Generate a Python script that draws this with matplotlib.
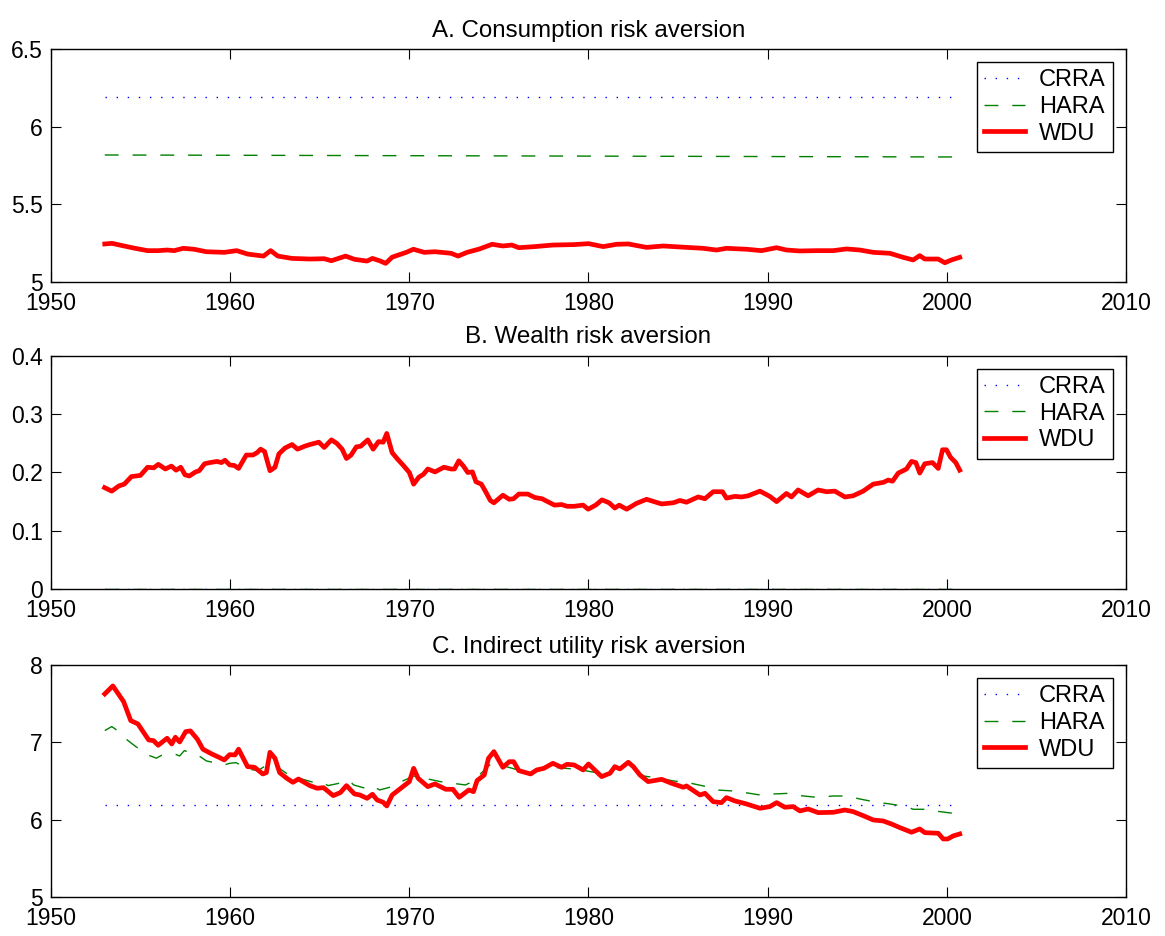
#!/usr/bin/env python3
"""Three-panel risk aversion chart (CRRA / HARA / WDU), MATLAB-style look."""
import numpy as np
import matplotlib
matplotlib.use("Agg")
import matplotlib.pyplot as plt

plt.rcParams["font.family"] = ["Liberation Sans", "DejaVu Sans"]

T0, T1 = 1953.0, 2000.72

# A. Consumption risk aversion
A_CRRA = 6.19
A_HARA = [5.818, 5.805]
A_WDU_T = [1953.0, 1953.4, 1953.99, 1954.69, 1955.39, 1955.98, 1956.48, 1956.88,
           1957.38, 1957.98, 1958.67, 1959.67, 1960.37, 1960.97, 1961.86, 1962.26,
           1962.66, 1963.45, 1964.45, 1965.25, 1965.65, 1966.44, 1966.94, 1967.64,
           1967.94, 1968.34, 1968.68, 1969.04, 1969.83, 1970.23, 1970.83, 1971.43,
           1972.33, 1972.72, 1973.22, 1973.92, 1974.62, 1975.22, 1975.72, 1976.11,
           1977.0, 1978.0, 1979.2, 1980.0, 1980.82, 1981.57, 1982.22, 1983.24,
           1984.17, 1985.47, 1986.40, 1987.14, 1987.70, 1988.82, 1989.66, 1990.50,
           1991.05, 1991.80, 1992.73, 1993.66, 1994.40, 1995.15, 1995.89, 1996.82,
           1997.56, 1998.12, 1998.49, 1998.77, 1999.52, 1999.89, 2000.26, 2000.72]
A_WDU = [5.245, 5.249, 5.234, 5.217, 5.202, 5.202, 5.206, 5.202,
         5.217, 5.211, 5.195, 5.191, 5.202, 5.180, 5.167, 5.202,
         5.167, 5.152, 5.148, 5.150, 5.137, 5.167, 5.146, 5.135,
         5.152, 5.137, 5.120, 5.160, 5.191, 5.211, 5.191, 5.195,
         5.185, 5.167, 5.191, 5.213, 5.243, 5.232, 5.238, 5.221,
         5.228, 5.238, 5.241, 5.247, 5.228, 5.243, 5.245, 5.223,
         5.232, 5.223, 5.217, 5.206, 5.217, 5.211, 5.202, 5.221,
         5.206, 5.200, 5.202, 5.202, 5.213, 5.206, 5.191, 5.185,
         5.159, 5.142, 5.170, 5.148, 5.148, 5.124, 5.142, 5.159]

# B. Wealth risk aversion
B_CRRA = 0.0
B_HARA = 0.0
B_WDU_T = [1952.99, 1953.39, 1953.79, 1954.09, 1954.49, 1954.99, 1955.39, 1955.73,
           1955.99, 1956.38, 1956.72, 1956.98, 1957.24, 1957.48, 1957.72, 1958.07,
           1958.27, 1958.57, 1958.87, 1959.27, 1959.51, 1959.71, 1959.97, 1960.23,
           1960.47, 1960.90, 1961.27, 1961.50, 1961.70, 1961.92, 1962.22, 1962.50,
           1962.72, 1963.06, 1963.45, 1963.76, 1964.15, 1964.45, 1964.95, 1965.25,
           1965.65, 1965.95, 1966.25, 1966.49, 1966.75, 1967.04, 1967.28, 1967.68,
           1967.98, 1968.28, 1968.54, 1968.74, 1969.04, 1969.34, 1969.64, 1970.0,
           1970.24, 1970.53, 1970.79, 1971.03, 1971.43, 1971.93, 1972.33, 1972.52,
           1972.76, 1973.02, 1973.26, 1973.52, 1973.72, 1974.02, 1974.26, 1974.52,
           1974.72, 1975.22, 1975.58, 1975.82, 1976.11, 1976.61, 1977.01, 1977.40,
           1978.10, 1978.50, 1978.80, 1979.20, 1979.70, 1979.98, 1980.40, 1980.75,
           1981.15, 1981.47, 1981.71, 1982.13, 1982.68, 1983.24, 1984.08, 1984.73,
           1985.10, 1985.47, 1986.12, 1986.50, 1986.96, 1987.48, 1987.70, 1988.17,
           1988.54, 1988.91, 1989.57, 1990.12, 1990.50, 1991.05, 1991.33, 1991.70,
           1992.26, 1992.82, 1993.28, 1993.75, 1994.31, 1994.77, 1995.33, 1995.89,
           1996.45, 1996.73, 1996.97, 1997.29, 1997.75, 1998.03, 1998.27, 1998.49,
           1998.77, 1999.20, 1999.52, 1999.76, 1999.98, 2000.21, 2000.50, 2000.72]
B_WDU = [0.174, 0.168, 0.177, 0.180, 0.193, 0.195, 0.209, 0.208,
         0.214, 0.206, 0.211, 0.204, 0.209, 0.196, 0.194, 0.201,
         0.203, 0.215, 0.217, 0.219, 0.217, 0.221, 0.213, 0.212,
         0.207, 0.230, 0.230, 0.234, 0.240, 0.236, 0.203, 0.209,
         0.232, 0.242, 0.248, 0.240, 0.245, 0.248, 0.252, 0.243,
         0.256, 0.250, 0.240, 0.224, 0.230, 0.244, 0.245, 0.256,
         0.240, 0.253, 0.252, 0.267, 0.234, 0.223, 0.213, 0.200,
         0.180, 0.192, 0.197, 0.206, 0.201, 0.209, 0.206, 0.206,
         0.220, 0.211, 0.200, 0.201, 0.184, 0.180, 0.167, 0.152,
         0.148, 0.161, 0.154, 0.155, 0.163, 0.163, 0.157, 0.155,
         0.144, 0.145, 0.142, 0.142, 0.144, 0.137, 0.144, 0.153,
         0.148, 0.139, 0.144, 0.137, 0.147, 0.154, 0.146, 0.148,
         0.152, 0.149, 0.158, 0.155, 0.167, 0.167, 0.156, 0.159,
         0.158, 0.160, 0.168, 0.159, 0.150, 0.164, 0.158, 0.170,
         0.160, 0.170, 0.167, 0.168, 0.158, 0.160, 0.168, 0.180,
         0.183, 0.187, 0.185, 0.199, 0.206, 0.219, 0.217, 0.199,
         0.215, 0.217, 0.207, 0.239, 0.239, 0.226, 0.217, 0.204]

# C. Indirect utility risk aversion
C_CRRA = 6.19
C_HARA_T = [1953.0, 1953.39, 1953.79, 1954.25, 1954.73, 1955.49, 1955.88, 1956.14,
            1956.88, 1957.18, 1957.44, 1958.27, 1958.67, 1959.67, 1959.97, 1960.33,
            1960.97, 1961.56, 1962.26, 1962.54, 1963.55, 1963.85, 1964.85, 1965.21,
            1965.45, 1966.34, 1966.64, 1966.89, 1967.74, 1968.0, 1968.34, 1969.04,
            1969.64, 1970.24, 1971.73, 1972.43, 1973.13, 1973.52, 1974.62, 1975.4,
            1976.21, 1976.81, 1978.01, 1979.20, 1979.80, 1980.63, 1981.57, 1982.22,
            1983.06, 1983.99, 1984.73, 1985.47, 1986.59, 1987.14, 1988.07, 1988.63,
            1989.57, 1990.31, 1991.24, 1991.80, 1992.73, 1993.66, 1994.40, 1995.15,
            1995.98, 1996.82, 1997.75, 1998.12, 1998.77, 1999.61, 2000.35, 2000.72]
C_HARA = [7.152, 7.204, 7.139, 7.031, 6.945, 6.829, 6.795, 6.829,
          6.850, 6.824, 6.893, 6.824, 6.760, 6.708, 6.729, 6.737,
          6.655, 6.634, 6.742, 6.695, 6.535, 6.535, 6.470, 6.479,
          6.440, 6.483, 6.505, 6.449, 6.393, 6.427, 6.384, 6.427,
          6.501, 6.565, 6.492, 6.470, 6.449, 6.492, 6.737, 6.686,
          6.634, 6.608, 6.677, 6.655, 6.634, 6.600, 6.677, 6.677,
          6.565, 6.535, 6.501, 6.483, 6.427, 6.384, 6.371, 6.354,
          6.319, 6.332, 6.341, 6.311, 6.289, 6.306, 6.306, 6.267,
          6.229, 6.203, 6.169, 6.134, 6.134, 6.104, 6.082, 6.125]
C_WDU_T = [1953.0, 1953.45, 1954.05, 1954.45, 1954.85, 1955.45, 1955.72, 1955.98,
           1956.48, 1956.74, 1956.94, 1957.18, 1957.52, 1957.78, 1958.17, 1958.48,
           1958.97, 1959.37, 1959.67, 1959.97, 1960.27, 1960.47, 1960.97, 1961.36,
           1961.82, 1962.02, 1962.22, 1962.50, 1962.76, 1963.16, 1963.50, 1963.81,
           1964.45, 1964.85, 1965.21, 1965.75, 1966.15, 1966.49, 1966.94, 1967.24,
           1967.64, 1967.94, 1968.20, 1968.54, 1968.74, 1969.04, 1969.64, 1970.0,
           1970.24, 1970.49, 1971.03, 1971.43, 1972.03, 1972.43, 1972.78, 1973.32,
           1973.58, 1973.78, 1974.18, 1974.42, 1974.72, 1975.22, 1975.58, 1975.82,
           1976.11, 1976.77, 1977.11, 1977.51, 1978.01, 1978.50, 1978.80, 1979.20,
           1979.70, 1980.0, 1980.73, 1981.20, 1981.47, 1981.75, 1982.22, 1982.50,
           1982.87, 1983.33, 1984.08, 1984.64, 1985.29, 1985.47, 1986.22, 1986.50,
           1986.96, 1987.42, 1987.70, 1988.17, 1988.82, 1989.57, 1990.12, 1990.50,
           1990.96, 1991.42, 1991.80, 1992.26, 1992.82, 1993.66, 1994.31, 1994.77,
           1995.33, 1995.89, 1996.45, 1996.91, 1997.38, 1998.03, 1998.49, 1998.77,
           1999.52, 1999.80, 2000.05, 2000.35, 2000.72]
C_WDU = [7.626, 7.730, 7.527, 7.281, 7.238, 7.031, 7.022, 6.962,
         7.053, 6.979, 7.066, 7.005, 7.139, 7.148, 7.040, 6.911,
         6.850, 6.807, 6.772, 6.841, 6.837, 6.911, 6.686, 6.677,
         6.591, 6.608, 6.871, 6.794, 6.608, 6.535, 6.483, 6.526,
         6.440, 6.406, 6.414, 6.311, 6.350, 6.440, 6.332, 6.319,
         6.276, 6.328, 6.255, 6.225, 6.177, 6.319, 6.427, 6.492,
         6.664, 6.535, 6.427, 6.462, 6.393, 6.393, 6.289, 6.384,
         6.362, 6.505, 6.578, 6.794, 6.880, 6.677, 6.750, 6.750,
         6.634, 6.591, 6.643, 6.664, 6.729, 6.677, 6.716, 6.707,
         6.643, 6.720, 6.557, 6.600, 6.686, 6.656, 6.742, 6.686,
         6.578, 6.492, 6.522, 6.470, 6.419, 6.436, 6.319, 6.341,
         6.233, 6.220, 6.285, 6.242, 6.203, 6.147, 6.169, 6.220,
         6.160, 6.169, 6.113, 6.138, 6.091, 6.095, 6.125, 6.104,
         6.052, 5.996, 5.983, 5.944, 5.897, 5.837, 5.880, 5.832,
         5.824, 5.750, 5.750, 5.789, 5.815]

TITLES = ["A. Consumption risk aversion", "B. Wealth risk aversion",
          "C. Indirect utility risk aversion"]
YLIMS = [(5, 6.5), (0, 0.4), (5, 8)]
YTICKS = [[5, 5.5, 6, 6.5], [0, 0.1, 0.2, 0.3, 0.4], [5, 6, 7, 8]]
YTICKLABELS = [["5", "5.5", "6", "6.5"], ["0", "0.1", "0.2", "0.3", "0.4"],
               ["5", "6", "7", "8"]]
XTICKS = [1950, 1960, 1970, 1980, 1990, 2000, 2010]

# axes boxes in figure fraction (left, bottom, width, height)
BOXES = [(0.0438, 0.6987, 0.9227, 0.2489),
         (0.0438, 0.3707, 0.9227, 0.2490),
         (0.0438, 0.0417, 0.9227, 0.2478)]

CRRA_STYLE = dict(color="#0000ff", lw=1.0, linestyle=(0, (1, 7)))
HARA_STYLE = dict(color="#008000", lw=1.0, linestyle=(0, (10, 10)))
WDU_STYLE = dict(color="#ff0000", lw=3.4, solid_joinstyle="round")


def panel(ax, crra, hara_t, hara, wdu_t, wdu, title, ylim, yticks, yticklabels):
    ax.plot(crra[0], crra[1], label="CRRA", **CRRA_STYLE)
    ax.plot(hara_t, hara, label="HARA", **HARA_STYLE)
    ax.plot(wdu_t, wdu, label="WDU", **WDU_STYLE)
    ax.set_xlim(1950, 2010)
    ax.set_ylim(*ylim)
    ax.set_xticks(XTICKS)
    ax.set_xticklabels([str(x) for x in XTICKS])
    ax.set_yticks(yticks)
    ax.set_yticklabels(yticklabels)
    ax.tick_params(direction="in", length=7, width=0.8, labelsize=16.5,
                   top=True, right=True)
    ax.tick_params(axis="x", pad=7)
    ax.tick_params(axis="y", pad=6)
    for s in ("top", "bottom", "left", "right"):
        ax.spines[s].set_linewidth(1.0)
    ax.set_title(title, fontsize=17.4, pad=9)
    leg = ax.legend(loc="upper right", fontsize=17, frameon=True, fancybox=False,
                    edgecolor="black", framealpha=1, handlelength=1.75,
                    handletextpad=0.6, borderpad=0.3, labelspacing=0.2,
                    borderaxespad=0.55)
    leg.get_frame().set_linewidth(1.0)


def main():
    fig = plt.figure(figsize=(11.65, 9.36), dpi=100)
    span = [T0, T1]
    axs = [fig.add_axes(b) for b in BOXES]
    panel(axs[0], (span, [A_CRRA, A_CRRA]), span, A_HARA, A_WDU_T, A_WDU,
          TITLES[0], YLIMS[0], YTICKS[0], YTICKLABELS[0])
    panel(axs[1], (span, [B_CRRA, B_CRRA]), span, [B_HARA, B_HARA], B_WDU_T, B_WDU,
          TITLES[1], YLIMS[1], YTICKS[1], YTICKLABELS[1])
    panel(axs[2], (span, [C_CRRA, C_CRRA]), C_HARA_T, C_HARA, C_WDU_T, C_WDU,
          TITLES[2], YLIMS[2], YTICKS[2], YTICKLABELS[2])
    fig.savefig("out.png", dpi=100)
    plt.close(fig)


if __name__ == "__main__":
    main()
